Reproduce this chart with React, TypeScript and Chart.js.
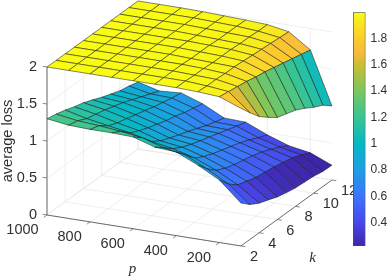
import React, { useEffect, useRef } from "react";
import { Chart, registerables } from "chart.js";

Chart.register(...registerables);

const pValues = [1000, 900, 800, 700, 600, 500, 400, 300, 200, 100];
const kValues = [2, 3, 4, 5, 6, 7, 8, 9, 10, 11, 12];
const pTicks = [1000, 800, 600, 400, 200];
const kTicks = [2, 4, 6, 8, 10, 12];
const zTicks = [0, 0.5, 1, 1.5, 2];
const colorbarTicks = [0.4, 0.6, 0.8, 1, 1.2, 1.4, 1.6, 1.8];
const colorMin = 0.224;
const colorMax = 2;

// rows follow pValues, columns follow kValues
const upperLoss = [
  [2, 2, 2, 2, 2, 2, 2, 2, 2, 2, 2],
  [2, 2, 2, 2, 2, 2, 2, 2, 2, 2, 2],
  [2, 2, 2, 2, 2, 2, 2, 2, 2, 2, 2],
  [2, 2, 2, 2, 2, 2, 2, 2, 2, 2, 1.995],
  [2, 2, 2, 2, 2, 2, 2, 1.99, 1.99, 1.99, 1.985],
  [2, 2, 2, 2, 1.99, 1.99, 1.99, 1.98, 1.98, 1.98, 1.975],
  [2, 2, 1.99, 1.99, 1.98, 1.98, 1.98, 1.97, 1.97, 1.96, 1.96],
  [1.99, 1.98, 1.98, 1.97, 1.97, 1.96, 1.95, 1.94, 1.93, 1.92, 1.91],
  [1.97, 1.95, 1.93, 1.91, 1.88, 1.86, 1.83, 1.8, 1.77, 1.74, 1.71],
  [1.86, 1.71, 1.57, 1.47, 1.38, 1.34, 1.3, 1.235, 1.16, 1.1, 1.0],
];
const lowerLoss = [
  [1.3, 1.275, 1.24, 1.195, 1.16, 1.11, 1.055, 1.01, 0.965, 0.94, 0.905],
  [1.26, 1.23, 1.17, 1.14, 1.11, 1.07, 1.03, 0.98, 0.93, 0.88, 0.83],
  [1.25, 1.21, 1.12, 1.07, 1.04, 1.0, 0.97, 0.93, 0.9, 0.87, 0.85],
  [1.25, 1.18, 1.07, 1.01, 0.96, 0.92, 0.88, 0.85, 0.81, 0.78, 0.75],
  [1.24, 1.14, 1.0, 0.92, 0.87, 0.82, 0.78, 0.73, 0.68, 0.64, 0.605],
  [1.15, 1.05, 0.95, 0.88, 0.83, 0.79, 0.75, 0.71, 0.67, 0.63, 0.595],
  [1.13, 1.0, 0.87, 0.8, 0.75, 0.71, 0.67, 0.63, 0.58, 0.52, 0.47],
  [1.0, 0.86, 0.75, 0.69, 0.65, 0.62, 0.59, 0.55, 0.5, 0.44, 0.37],
  [0.845, 0.7, 0.6, 0.56, 0.52, 0.505, 0.485, 0.455, 0.43, 0.38, 0.32],
  [0.58, 0.47, 0.4, 0.355, 0.305, 0.275, 0.25, 0.24, 0.23, 0.205, 0.2],
];

const parulaStops: [number, number, number, number][] = [
  [0, 0.2422, 0.1504, 0.6603],
  [0.1, 0.2803, 0.2782, 0.9221],
  [0.21, 0.235, 0.455, 0.99],
  [0.324, 0.12, 0.62, 0.9],
  [0.437, 0.02, 0.72, 0.77],
  [0.55, 0.22, 0.77, 0.58],
  [0.66, 0.47, 0.78, 0.38],
  [0.775, 0.8, 0.74, 0.2],
  [0.83, 0.98, 0.73, 0.24],
  [0.887, 0.98, 0.8, 0.18],
  [1, 0.977, 0.984, 0.08],
];

function parula(t: number) {
  const v = Math.max(0, Math.min(1, t));
  let i = 0;
  while (i < parulaStops.length - 2 && v > parulaStops[i + 1][0]) i++;
  const a = parulaStops[i];
  const b = parulaStops[i + 1];
  const f = (v - a[0]) / (b[0] - a[0]);
  const c = [1, 2, 3].map((n) => Math.round(255 * (a[n] + (b[n] - a[n]) * f)));
  return `rgb(${c[0]},${c[1]},${c[2]})`;
}
const colorOf = (z: number) => parula((z - colorMin) / (colorMax - colorMin));

// orthographic view of the (p, k, loss) box onto the chart's x / y scales
function project(p: number, k: number, z: number) {
  return {
    x: 47 + (1000 - p) * 0.2155 + (k - 2) * 9.1,
    y: 215 + (1000 - p) * 0.0344 - (k - 2) * 6.6 - z * 74,
  };
}

const GRID = "#e4e4e4";
const AXIS = "#6a6a6a";
const TEXT = "#303030";

function segment(a: number[], b: number[], color: string, width = 0.6) {
  return {
    data: [project(a[0], a[1], a[2]), project(b[0], b[1], b[2])],
    showLine: true,
    borderColor: color,
    borderWidth: width,
    pointRadius: 0,
    fill: false,
  };
}

function buildLayers() {
  const out: any[] = [];
  const pLow = 100;
  const pHigh = 1000;
  for (const p of pTicks) {
    out.push(segment([p, 2, 0], [p, 12, 0], GRID));
    out.push(segment([p, 12, 0], [p, 12, 2], GRID));
  }
  for (const k of kTicks) {
    out.push(segment([pHigh, k, 0], [pLow, k, 0], GRID));
    out.push(segment([pHigh, k, 0], [pHigh, k, 2], GRID));
  }
  for (const z of zTicks) {
    out.push(segment([pHigh, 2, z], [pHigh, 12, z], GRID));
    out.push(segment([pHigh, 12, z], [pLow, 12, z], GRID));
  }
  out.push(segment([pHigh, 2, 0], [pHigh, 2, 2], AXIS, 1));
  out.push(segment([pHigh, 2, 0], [pLow, 2, 0], AXIS, 1));
  out.push(segment([pLow, 2, 0], [pLow, 12, 0], AXIS, 1));
  for (const p of pTicks) out.push(segment([p, 2, 0], [p, 1.65, 0], AXIS, 0.8));
  for (const k of kTicks) out.push(segment([pLow, k, 0], [pLow - 20, k, 0], AXIS, 0.8));
  for (const z of zTicks) out.push(segment([pHigh, 2, z], [pHigh + 20, 2, z], AXIS, 0.8));

  for (const surface of [lowerLoss, upperLoss]) {
    for (let i = 0; i < pValues.length - 1; i++) {
      for (let j = kValues.length - 2; j >= 0; j--) {
        const corners = [
          [i, j],
          [i + 1, j],
          [i + 1, j + 1],
          [i, j + 1],
          [i, j],
        ];
        out.push({
          data: corners.map(([a, b]) => project(pValues[a], kValues[b], surface[a][b])),
          showLine: true,
          fill: "shape",
          backgroundColor: colorOf((surface[i + 1][j] + surface[i + 1][j + 1]) / 2),
          borderColor: "rgba(20,20,20,0.85)",
          borderWidth: 0.6,
          pointRadius: 0,
        });
      }
    }
  }
  return out.reverse();
}

const labelPlugin = {
  id: "axisText",
  afterDatasetsDraw(chart: any) {
    const c = chart.ctx;
    const sx = chart.scales.x;
    const sy = chart.scales.y;
    const at = (p: number, k: number, z: number) => {
      const q = project(p, k, z);
      return [sx.getPixelForValue(q.x), sy.getPixelForValue(q.y)];
    };
    c.save();
    c.fillStyle = TEXT;
    c.textBaseline = "middle";
    c.font = '14.5px "Liberation Sans"';
    c.textAlign = "right";
    for (const z of zTicks) {
      const [x, y] = at(1000, 2, z);
      c.fillText(String(z), x - 10, y);
    }
    c.textAlign = "center";
    for (const p of pTicks) {
      const [x, y] = at(p, 2, 0);
      c.fillText(String(p), x - (p === 1000 ? 24.5 : 20.5), y + 15);
    }
    c.textAlign = "left";
    for (const k of kTicks) {
      const [x, y] = at(100, k, 0);
      c.fillText(String(k), x + 9, y + 11);
    }
    c.textAlign = "center";
    c.font = 'italic 15px "Liberation Serif"';
    c.fillText("p", 132.5, 269);
    c.fillText("k", 312.5, 258.5);
    c.font = '14.6px "Liberation Sans"';
    c.translate(8, 141);
    c.rotate(-Math.PI / 2);
    c.fillText("average loss", 0, 0);
    c.restore();
  },
};

export default function App() {
  const mainRef = useRef<HTMLCanvasElement>(null);
  const barRef = useRef<HTMLCanvasElement>(null);
  useEffect(() => {
    const main = new Chart(mainRef.current!, {
      type: "scatter",
      data: { datasets: buildLayers() },
      options: {
        animation: false,
        responsive: false,
        events: [],
        layout: { padding: 0 },
        scales: {
          x: { type: "linear", min: 0, max: 390, display: false },
          y: { type: "linear", min: 0, max: 277, reverse: true, display: false },
        },
        plugins: { legend: { display: false }, tooltip: { enabled: false } },
      },
      plugins: [labelPlugin],
    } as any);
    const bar = new Chart(barRef.current!, {
      type: "bar",
      data: {
        labels: ["loss"],
        datasets: [
          {
            data: [[colorMin, colorMax]],
            barPercentage: 1,
            categoryPercentage: 1,
            borderWidth: 1,
            borderColor: "#4a4a4a",
            borderSkipped: false,
            backgroundColor: (ctx: any) => {
              const area = ctx.chart.chartArea;
              if (!area) return "#888";
              const g = ctx.chart.ctx.createLinearGradient(0, area.bottom, 0, area.top);
              for (let i = 0; i <= 64; i++) g.addColorStop(i / 64, parula(i / 64));
              return g;
            },
          },
        ],
      },
      options: {
        animation: false,
        responsive: false,
        events: [],
        layout: { padding: { top: 3, bottom: 31, left: 0, right: 0 } },
        scales: {
          x: { display: false },
          y: {
            position: "right",
            min: colorMin,
            max: colorMax,
            afterBuildTicks: (s: any) => {
              s.ticks = colorbarTicks.map((value) => ({ value }));
            },
            afterFit: (s: any) => {
              s.width = 24.5;
            },
            border: { display: false },
            grid: { display: false, drawTicks: false, tickLength: 0 },
            ticks: {
              padding: 5,
              color: TEXT,
              font: { family: "Liberation Sans", size: 12 },
              callback: (v: any) => String(v),
              autoSkip: false,
              maxRotation: 0,
            },
          },
        },
        plugins: { legend: { display: false }, tooltip: { enabled: false } },
      },
    } as any);
    return () => {
      main.destroy();
      bar.destroy();
    };
  }, []);
  return (
    <div style={{ position: "fixed", left: 0, top: 0, width: 390, height: 277, background: "#fff", overflow: "hidden" }}>
      <canvas ref={mainRef} width={390} height={277} style={{ position: "absolute", left: 0, top: 0 }} />
      <canvas ref={barRef} width={37} height={277} style={{ position: "absolute", left: 353, top: 0 }} />
    </div>
  );
}
